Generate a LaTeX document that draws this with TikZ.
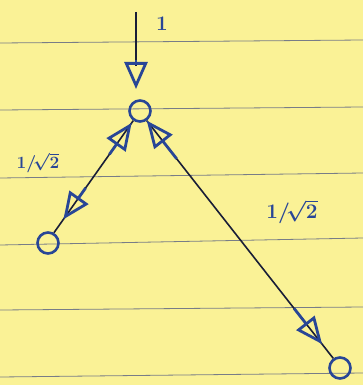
\documentclass[tikz,border=0pt]{standalone}
\usetikzlibrary{arrows.meta,decorations.markings}
\definecolor{paper}{RGB}{250,242,150}
\definecolor{rule}{RGB}{120,125,135}
\definecolor{ink}{RGB}{40,70,150}
\definecolor{pen}{RGB}{25,30,55}
\tikzset{
  vert/.style={circle,draw=ink,line width=2.6pt,minimum width=21pt,minimum height=18pt,inner sep=0pt},
  tri/.style={-{Triangle[open,length=27pt,width=23pt,line width=2.8pt]},ink,line width=2.8pt},
  edge/.style={draw=pen,line width=1.6pt},
  lbl/.style={text=ink,font=\huge\bfseries\boldmath}
}
\begin{document}
\begin{tikzpicture}[x=1pt,y=-1pt]
\fill[paper] (0,0) rectangle (363,385);
\useasboundingbox (0,0) rectangle (363,385);
\foreach \a/\b in {43/40,110/107,178/173,245/238,310/307,377/373}
  \draw[rule,line width=0.8pt] (0,\a) -- (363,\b);
\node[vert] (top) at (140,111) {};
\node[vert] (left) at (48,243) {};
\node[vert] (right) at (340,368) {};
\coordinate (src) at (136,12);
\coordinate (tipv) at (136,89);
% vertical incoming arrow
\draw[edge,line width=2.4pt] (src) -- (136,66);
\draw[tri] (136,60) -- (tipv);
% left edge
\draw[edge] (top.235) -- (left.60);
\path (top.235) -- (left.60)
  coordinate[pos=0.02] (la1) coordinate[pos=0.3] (la2)
  coordinate[pos=0.6] (lb1) coordinate[pos=0.88] (lb2);
\draw[tri] (la2) -- (la1);
\draw[tri] (lb1) -- (lb2);
% right edge
\draw[edge] (top.305) -- (right.125);
\path (top.305) -- (right.125)
  coordinate[pos=0.0] (ra1) coordinate[pos=0.16] (ra2)
  coordinate[pos=0.79] (rb1) coordinate[pos=0.94] (rb2);
\draw[tri] (ra2) -- (ra1);
\draw[tri] (rb1) -- (rb2);
% labels
\node[lbl] (one) at (162,24) {1};
\node[lbl,font=\LARGE\bfseries\boldmath] (ll) at (38,163) {$1/\!\sqrt{2}$};
\node[lbl] (rl) at (292,212) {$1/\!\sqrt{2}$};
\end{tikzpicture}
\end{document}
